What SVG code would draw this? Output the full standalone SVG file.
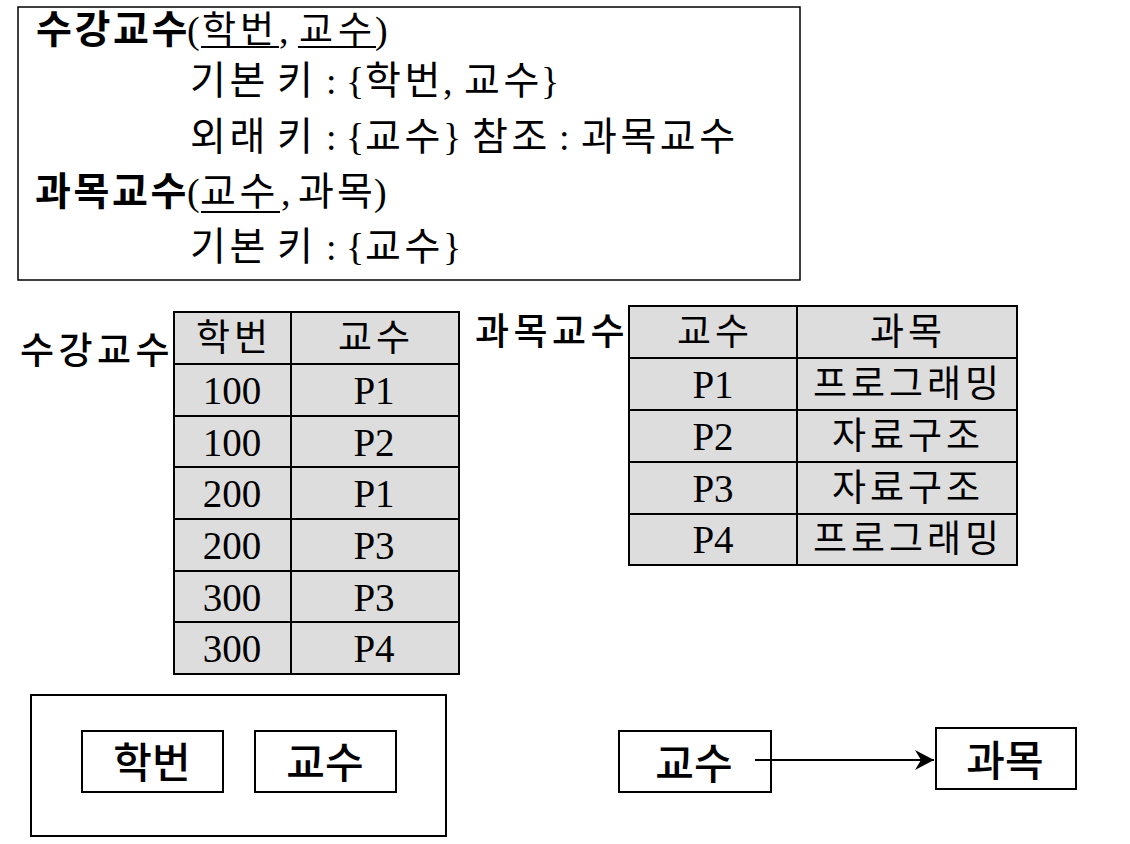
<svg xmlns="http://www.w3.org/2000/svg" width="1130" height="844" viewBox="0 0 1130 844">
<style>
.k{font-family:"Noto Sans CJK KR","Liberation Sans",sans-serif;font-size:39px;letter-spacing:3.5px;fill:#000}
.k0{letter-spacing:0}
.h1{font-size:37px}
.kb{font-family:"Noto Sans CJK KR","Liberation Sans",sans-serif;font-size:39px;letter-spacing:0;font-weight:700;fill:#000}
.s{font-family:"Liberation Serif","Noto Sans CJK KR",serif;font-size:38px;letter-spacing:0;font-weight:400;fill:#000}
.tk{font-family:"Noto Sans CJK KR","Liberation Sans",sans-serif;font-size:37px;letter-spacing:4px;fill:#000;text-anchor:middle}
.ts{font-family:"Liberation Serif","Noto Sans CJK KR",serif;font-size:39px;fill:#000;text-anchor:middle}
.lbl{font-family:"Noto Sans CJK KR","Liberation Sans",sans-serif;font-size:37px;letter-spacing:4.5px;font-weight:500;fill:#000}
.bx{font-family:"Noto Sans CJK KR","Liberation Sans",sans-serif;font-size:42px;font-weight:500;fill:#000;text-anchor:middle}
.cell{fill:#dddddd;stroke:#000;stroke-width:2}
.grid{stroke:#000;stroke-width:2}
.box{fill:#fff;stroke:#000;stroke-width:2}
.ul{stroke:#000;stroke-width:2}
</style>
<defs>
<marker id="ah" markerUnits="userSpaceOnUse" markerWidth="22" markerHeight="22" viewBox="-20 -11 22 22" refX="0" refY="0" orient="auto">
<path d="M0,0 L-19,-10 L-13,0 L-19,10 Z" fill="#000"/>
</marker>
</defs>

<g id="schema">
<rect x="18" y="7" width="782" height="273" fill="#fff" stroke="#000" stroke-width="1.5"/>
<text class="kb h1" x="36 74.5 113 151.5" y="43">수강교수</text>
<text class="k h1" y="43"><tspan class="s" x="187">(</tspan><tspan class="k0" x="202 240">학번</tspan><tspan class="s" x="279">,</tspan><tspan class="k0" x="299 338">교수</tspan><tspan class="s" x="375">)</tspan></text>
<line class="ul" x1="201" y1="47" x2="279" y2="47"/>
<line class="ul" x1="298" y1="47" x2="376" y2="47"/>

<text class="k" y="94"><tspan x="190">기본</tspan><tspan x="277">키</tspan><tspan class="s" x="326">:</tspan><tspan class="s" x="346">{</tspan><tspan x="365">학번</tspan><tspan class="s" x="443">,</tspan><tspan x="464">교수</tspan><tspan class="s" x="541">}</tspan></text>

<text class="k" y="150"><tspan x="190">외래</tspan><tspan x="277">키</tspan><tspan class="s" x="326">:</tspan><tspan class="s" x="346">{</tspan><tspan x="365">교수</tspan><tspan class="s" x="443">}</tspan><tspan x="472">참조</tspan><tspan class="s" x="559">:</tspan><tspan x="581">과목교수</tspan></text>

<text class="kb" x="35 73.5 112 150.5" y="205">과목교수</text>
<text class="k" y="205"><tspan class="s" x="187">(</tspan><tspan x="200">교수</tspan><tspan class="s" x="281">,</tspan><tspan class="k0" x="298 337">과목</tspan><tspan class="s" x="374">)</tspan></text>
<line class="ul" x1="201" y1="212" x2="280" y2="212"/>

<text class="k" y="260"><tspan x="190">기본</tspan><tspan x="277">키</tspan><tspan class="s" x="326">:</tspan><tspan class="s" x="346">{</tspan><tspan x="365">교수</tspan><tspan class="s" x="443">}</tspan></text>
</g>

<g id="table-sugang">
<text class="lbl" x="20" y="364">수강교수</text>
<rect class="cell" x="174" y="312" width="285" height="362"/>
<line class="grid" x1="291" y1="312" x2="291" y2="674"/>
<line class="grid" x1="174" y1="364" x2="459" y2="364"/>
<line class="grid" x1="174" y1="416" x2="459" y2="416"/>
<line class="grid" x1="174" y1="467" x2="459" y2="467"/>
<line class="grid" x1="174" y1="519" x2="459" y2="519"/>
<line class="grid" x1="174" y1="571" x2="459" y2="571"/>
<line class="grid" x1="174" y1="622" x2="459" y2="622"/>
<text class="tk" x="234" y="351">학번</text>
<text class="tk" x="376" y="351">교수</text>
<text class="ts" x="232" y="404">100</text><text class="ts" x="374" y="404">P1</text>
<text class="ts" x="232" y="456">100</text><text class="ts" x="374" y="456">P2</text>
<text class="ts" x="232" y="507">200</text><text class="ts" x="374" y="507">P1</text>
<text class="ts" x="232" y="559">200</text><text class="ts" x="374" y="559">P3</text>
<text class="ts" x="232" y="611">300</text><text class="ts" x="374" y="611">P3</text>
<text class="ts" x="232" y="662">300</text><text class="ts" x="374" y="662">P4</text>
</g>

<g id="table-gwamok">
<text class="lbl" x="475" y="345">과목교수</text>
<rect class="cell" x="629" y="306" width="388" height="259"/>
<line class="grid" x1="797" y1="306" x2="797" y2="565"/>
<line class="grid" x1="629" y1="358" x2="1017" y2="358"/>
<line class="grid" x1="629" y1="410" x2="1017" y2="410"/>
<line class="grid" x1="629" y1="462" x2="1017" y2="462"/>
<line class="grid" x1="629" y1="514" x2="1017" y2="514"/>
<text class="tk" x="715" y="345">교수</text>
<text class="tk" x="908" y="345">과목</text>
<text class="ts" x="713" y="398">P1</text><text class="tk" x="908" y="397">프로그래밍</text>
<text class="ts" x="713" y="450">P2</text><text class="tk" x="908" y="449">자료구조</text>
<text class="ts" x="713" y="502">P3</text><text class="tk" x="908" y="501">자료구조</text>
<text class="ts" x="713" y="553">P4</text><text class="tk" x="908" y="552">프로그래밍</text>
</g>

<g id="pk-group">
<rect class="box" x="31" y="695" width="415" height="141"/>
</g>
<g id="node-hakbeon">
<rect class="box" x="82" y="731" width="141" height="61"/>
<text class="bx" x="152" y="778">학번</text>
</g>
<g id="node-gyosu1">
<rect class="box" x="255" y="731" width="141" height="61"/>
<text class="bx" x="325" y="778">교수</text>
</g>
<g id="node-gyosu2">
<rect class="box" x="619" y="731" width="152" height="61"/>
<text class="bx" x="694" y="779">교수</text>
</g>
<g id="node-gwamok">
<rect class="box" x="936" y="728" width="140" height="61"/>
<text class="bx" x="1005" y="776">과목</text>
</g>

<g id="connectors">
<line x1="755" y1="760" x2="934" y2="760" stroke="#000" stroke-width="2" marker-end="url(#ah)"/>
</g>
</svg>
